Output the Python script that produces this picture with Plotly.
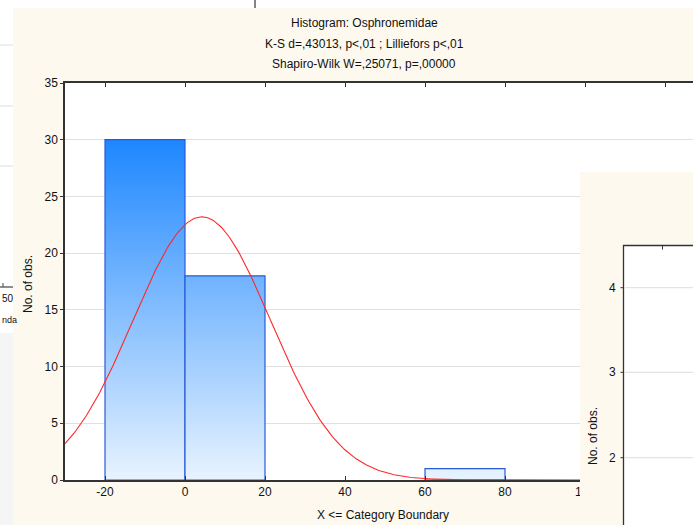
import numpy as np
import plotly.graph_objects as go

# ---------------- data ----------------
BIN_EDGES = [-20, 0, 20, 40, 60, 80, 100]
COUNTS = [30, 18, 0, 0, 1, 0]
X_TICKS = [-20, 0, 20, 40, 60, 80, 100, 120]
Y_TICKS = [0, 5, 10, 15, 20, 25, 30, 35]
# fitted normal curve parameters (Statistica expected normal)
CURVE_MEAN = 4.2
CURVE_SD = 17.2
N_OBS = 50
BIN_WIDTH = 20

TITLE_LINES = [
    "Histogram: Osphronemidae",
    "K-S d=,43013, p<,01 ; Lilliefors p<,01",
    "Shapiro-Wilk W=,25071, p=,00000",
]
X_TITLE = "X <= Category Boundary"
Y_TITLE = "No. of obs."
SIDE_Y_TICKS = ["4", "3", "2"]

# ---------------- geometry ----------------
W, H = 693, 525
PL, PR, PT, PB = 65, 693, 83, 480
CREAM = "#FDF9EF"
FONT = "Arial, Liberation Sans, sans-serif"


def px(x):
    return (x - PL) / (PR - PL)


def py(y):
    return (PB - y) / (PB - PT)


fig = go.Figure()

# histogram bars with vertical gradient
vmax = max(COUNTS)
for i, c in enumerate(COUNTS):
    if c <= 0:
        continue
    l, r = BIN_EDGES[i], BIN_EDGES[i + 1]
    fig.add_trace(go.Scatter(
        x=[l, l, r, r, l], y=[0, c, c, 0, 0],
        mode="lines", fill="toself",
        line=dict(color="#2A5BD7", width=1.2),
        fillgradient=dict(type="vertical",
                          colorscale=[[0, "rgb(232,243,254)"], [1, "rgb(30,135,255)"]],
                          start=0, stop=vmax),
        hoverinfo="skip", showlegend=False,
    ))

# normal curve
xs = np.linspace(-30, 127, 400)
ys = N_OBS * BIN_WIDTH / (CURVE_SD * np.sqrt(2 * np.pi)) * np.exp(-0.5 * ((xs - CURVE_MEAN) / CURVE_SD) ** 2)
fig.add_trace(go.Scatter(x=xs, y=ys, mode="lines",
                         line=dict(color="rgb(255,40,40)", width=1.1),
                         hoverinfo="skip", showlegend=False))

shapes = []
# white strips from background windows
shapes.append(dict(type="rect", xref="paper", yref="paper", x0=px(-5), x1=px(700), y0=py(-5), y1=py(8),
                   fillcolor="white", line=dict(width=0), layer="above"))
shapes.append(dict(type="rect", xref="paper", yref="paper", x0=px(-5), x1=px(13), y0=py(-5), y1=py(530),
                   fillcolor="white", line=dict(width=0), layer="above"))
shapes.append(dict(type="rect", xref="paper", yref="paper", x0=px(-5), x1=px(13), y0=py(333), y1=py(530),
                   fillcolor="#F5F5F5", line=dict(width=0), layer="above"))
shapes.append(dict(type="line", xref="paper", yref="paper", x0=px(255), x1=px(255), y0=py(0), y1=py(8),
                   line=dict(color="#333", width=1.2), layer="above"))
for yy in [45, 106, 166]:
    shapes.append(dict(type="line", xref="paper", yref="paper", x0=px(0), x1=px(13), y0=py(yy), y1=py(yy),
                       line=dict(color="#DDDDDD", width=1), layer="above"))
shapes.append(dict(type="line", xref="paper", yref="paper", x0=px(0), x1=px(13), y0=py(287), y1=py(287),
                   line=dict(color="#444", width=1.2), layer="above"))
shapes.append(dict(type="line", xref="paper", yref="paper", x0=px(3), x1=px(3), y0=py(283), y1=py(287),
                   line=dict(color="#444", width=1), layer="above"))

# overlapping second window
shapes.append(dict(type="rect", xref="paper", yref="paper", x0=px(580), x1=px(700), y0=py(172), y1=py(530),
                   fillcolor=CREAM, line=dict(width=0), layer="above"))
shapes.append(dict(type="rect", xref="paper", yref="paper", x0=px(623.5), x1=px(700), y0=py(245.5), y1=py(530),
                   fillcolor="white", line=dict(color="#333", width=1.3), layer="above"))
for yy in [287.7, 372.3, 457.7]:
    shapes.append(dict(type="line", xref="paper", yref="paper", x0=px(624.5), x1=px(700), y0=py(yy), y1=py(yy),
                       line=dict(color="#DDDDDD", width=1), layer="above"))
    shapes.append(dict(type="line", xref="paper", yref="paper", x0=px(620.5), x1=px(623.5), y0=py(yy), y1=py(yy),
                       line=dict(color="#333", width=1), layer="above"))
shapes.append(dict(type="line", xref="paper", yref="paper", x0=px(662.5), x1=px(662.5), y0=py(245.5), y1=py(249.5),
                   line=dict(color="#333", width=1), layer="above"))

annotations = []
for txt, yy in zip(TITLE_LINES, [23, 44, 64]):
    annotations.append(dict(text=txt, xref="paper", yref="paper", x=px(364), y=py(yy),
                            xanchor="center", yanchor="middle", showarrow=False,
                            font=dict(family=FONT, size=12, color="#111")))
annotations.append(dict(text=X_TITLE, xref="paper", yref="paper", x=px(383), y=py(515),
                        xanchor="center", yanchor="middle", showarrow=False,
                        font=dict(family=FONT, size=12, color="#111")))
annotations.append(dict(text=Y_TITLE, xref="paper", yref="paper", x=px(28), y=py(284),
                        xanchor="center", yanchor="middle", showarrow=False, textangle=-90,
                        font=dict(family=FONT, size=12, color="#111")))
# second window texts
for txt, yy in zip(SIDE_Y_TICKS, [287.7, 372.3, 457.7]):
    annotations.append(dict(text=txt, xref="paper", yref="paper", x=px(618), y=py(yy),
                            xanchor="right", yanchor="middle", showarrow=False,
                            font=dict(family=FONT, size=12, color="#111")))
annotations.append(dict(text=Y_TITLE, xref="paper", yref="paper", x=px(593), y=py(436),
                        xanchor="center", yanchor="middle", showarrow=False, textangle=-90,
                        font=dict(family=FONT, size=12, color="#111")))
# left sliver fragments (from a window behind)
annotations.append(dict(text="50", xref="paper", yref="paper", x=px(0), y=py(298),
                        xanchor="left", yanchor="middle", showarrow=False,
                        font=dict(family=FONT, size=10, color="#111")))
annotations.append(dict(text="nda", xref="paper", yref="paper", x=px(0), y=py(320),
                        xanchor="left", yanchor="middle", showarrow=False,
                        font=dict(family=FONT, size=9, color="#111")))

fig.update_layout(
    width=W, height=H,
    margin=dict(l=PL, r=W - PR, t=PT, b=H - PB, pad=0),
    paper_bgcolor=CREAM, plot_bgcolor="white",
    font=dict(family=FONT, size=12, color="#111"),
    showlegend=False,
    shapes=shapes, annotations=annotations,
    xaxis=dict(range=[-30, 127], tickvals=X_TICKS, ticktext=[str(v) for v in X_TICKS],
               ticks="inside", ticklen=4, tickcolor="#333", showline=True, linecolor="#333", linewidth=1.5,
               mirror="ticks", showgrid=False, zeroline=False,
               tickfont=dict(family=FONT, size=12, color="#111")),
    yaxis=dict(range=[0, 35], tickvals=Y_TICKS, ticks="outside", ticklen=3, tickcolor="#333",
               showline=True, linecolor="#333", linewidth=1.5, mirror=False,
               showgrid=True, gridcolor="#E0E0E0", gridwidth=1, zeroline=False,
               tickfont=dict(family=FONT, size=12, color="#111")),
)

fig.write_html("out.html", config={"displayModeBar": False},
               post_script="document.body.style.margin='0';document.body.style.overflow='hidden';")
